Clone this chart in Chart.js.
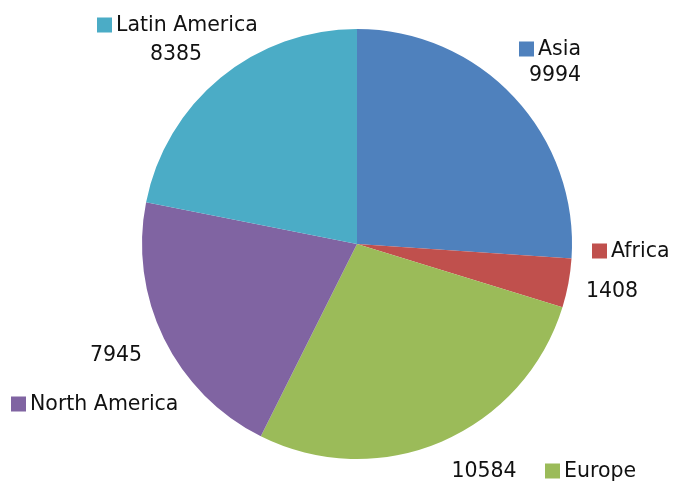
<!DOCTYPE html>
<html>
<head>
<meta charset="utf-8">
<script src="https://cdn.jsdelivr.net/npm/chart.js@4/dist/chart.umd.min.js"></script>
<style>
  body { margin: 0; background: #fff; }
  #wrap { width: 675px; height: 481px; }
</style>
</head>
<body>
<div id="wrap"><canvas id="pie" width="675" height="481"></canvas></div>
<script>
const regions = ['Asia', 'Africa', 'Europe', 'North America', 'Latin America'];
const counts = [9994, 1408, 10584, 7945, 8385];
const sliceColors = ['#4f81bd', '#c0504d', '#9bbb59', '#8064a2', '#4bacc6'];

// where each label sits, as offsets from the pie centre
// sq = left edge / middle of the colour square, val = middle of the number
const labelSpots = [
    { sq: [162, -195], val: [198, -169] },
    { sq: [235, 7], val: [255, 47] },
    { sq: [188, 227], val: [127, 227] },
    { sq: [-346, 160], val: [-241, 111] },
    { sq: [-260, -219], val: [-181, -190] }
];

const labelFont = '20.5px "DejaVu Sans", Verdana, sans-serif';

const pieLabels = {
    id: 'pieLabels',
    afterDraw(chart) {
        const ctx = chart.ctx;
        const arc = chart.getDatasetMeta(0).data[0];
        const cx = arc.x, cy = arc.y;
        ctx.save();
        ctx.font = labelFont;
        ctx.textBaseline = 'middle';
        labelSpots.forEach((spot, i) => {
            const sx = cx + spot.sq[0], sy = cy + spot.sq[1];
            ctx.fillStyle = sliceColors[i];
            ctx.fillRect(sx, sy - 7.5, 15, 15);
            ctx.fillStyle = '#111';
            ctx.textAlign = 'left';
            ctx.fillText(regions[i], sx + 19, sy + 1);
            ctx.textAlign = 'center';
            ctx.fillText(String(counts[i]), cx + spot.val[0], cy + spot.val[1] + 1);
        });
        ctx.restore();
    }
};

new Chart(document.getElementById('pie'), {
    type: 'pie',
    data: {
        labels: regions,
        datasets: [{
            data: counts,
            backgroundColor: sliceColors,
            borderWidth: 0
        }]
    },
    options: {
        responsive: false,
        animation: false,
        layout: {
            padding: { left: 142, right: 103, top: 29, bottom: 22 }
        },
        plugins: {
            legend: { display: false },
            tooltip: { enabled: false }
        }
    },
    plugins: [pieLabels]
});
</script>
</body>
</html>
